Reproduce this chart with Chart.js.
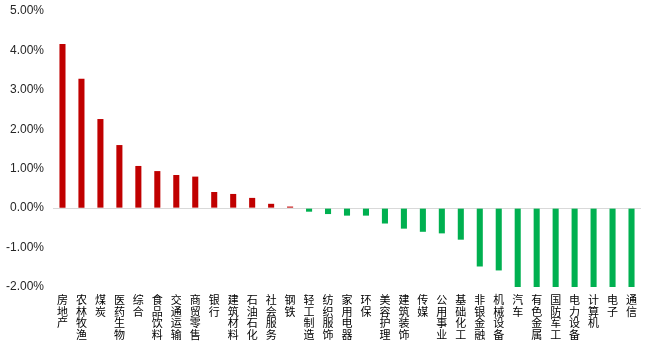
<!DOCTYPE html>
<html>
<head>
<meta charset="utf-8">
<script src="https://cdn.jsdelivr.net/npm/chart.js@4/dist/chart.umd.min.js"></script>
<style>
html,body{margin:0;padding:0;background:#fff;}
#wrap{width:649px;height:355px;position:relative;}
</style>
</head>
<body>
<div id="wrap"><canvas id="c" width="649" height="355"></canvas></div>
<script>
const categories = ['房地产','农林牧渔','煤炭','医药生物','综合','食品饮料','交通运输','商贸零售','银行','建筑材料','石油石化','社会服务','钢铁','轻工制造','纺织服饰','家用电器','环保','美容护理','建筑装饰','传媒','公用事业','基础化工','非银金融','机械设备','汽车','有色金属','国防军工','电力设备','计算机','电子','通信'];
const values = [4.16,3.28,2.26,1.60,1.07,0.94,0.84,0.80,0.41,0.36,0.26,0.11,0.04,-0.09,-0.15,-0.19,-0.19,-0.39,-0.52,-0.60,-0.64,-0.80,-1.48,-1.58,-2.00,-2.00,-2.00,-2.00,-2.00,-2.00,-2.00];
const yTicks = [-2,-1,0,1,2,3,4,5];

const posColor = '#C00000';
const negColor = '#00B050';

new Chart(document.getElementById('c'), {
  type: 'bar',
  data: {
    labels: categories.map(s => s.split('')),
    datasets: [{
      data: values,
      backgroundColor: values.map(v => v >= 0 ? posColor : negColor),
      borderWidth: 0,
      categoryPercentage: 1,
      barPercentage: 0.32
    }]
  },
  options: {
    responsive: false,
    animation: false,
    devicePixelRatio: 1,
    layout: { padding: { left: 0, right: 8, top: 11, bottom: 0 } },
    plugins: { legend: { display: false }, tooltip: { enabled: false } },
    scales: {
      x: {
        grid: { display: false, drawTicks: false },
        border: { display: false },
        ticks: {
          autoSkip: false,
          maxRotation: 0,
          minRotation: 0,
          padding: 7,
          color: '#000',
          font: { family: '"Noto Sans CJK SC", sans-serif', size: 11, lineHeight: 1.05 }
        },
        afterFit: s => { s.height = 68; }
      },
      y: {
        min: -2,
        max: 5,
        afterBuildTicks: s => { s.ticks = yTicks.map(v => ({ value: v })); },
        grid: {
          drawTicks: false,
          color: c => (c.tick && c.tick.value === 0) ? '#d9d9d9' : 'rgba(0,0,0,0)',
          lineWidth: 1
        },
        border: { display: false },
        ticks: {
          padding: 9,
          color: '#262626',
          font: { family: '"Liberation Sans", Arial, sans-serif', size: 12 },
          callback: v => v.toFixed(2) + '%'
        },
        afterFit: s => { s.width = 53; s.paddingTop = 0; s.paddingBottom = 0; }
      }
    }
  }
});
</script>
</body>
</html>
